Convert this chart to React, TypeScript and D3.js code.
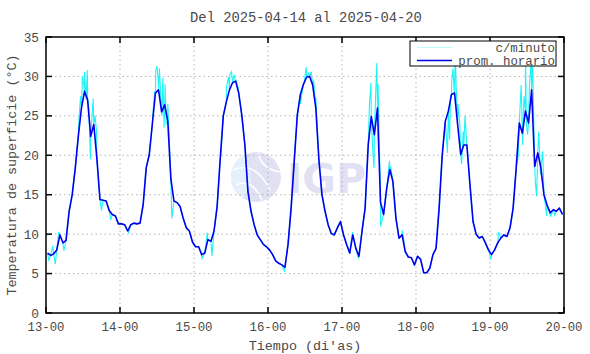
import React from "react";
import { scaleLinear, line, range } from "d3";

// hourly averages (prom. horario), one value per hour, 13-00 .. 19-23
const day13 = [7.6, 7.3, 7.5, 8.0, 9.9, 8.9, 9.2, 12.9, 15.0, 18.4, 22.5, 26.0, 28.1, 27.0, 22.4, 23.9, 19.6, 14.4, 14.3, 14.2, 13.0, 12.5, 12.3, 11.3];
const day14 = [11.3, 11.2, 10.4, 11.2, 11.4, 11.3, 11.4, 13.7, 18.4, 20.1, 24.0, 27.9, 28.3, 25.5, 26.4, 24.3, 17.0, 14.2, 14.0, 13.5, 12.0, 10.8, 10.4, 9.0];
const day15 = [8.4, 8.4, 7.4, 7.6, 9.3, 9.1, 10.4, 13.5, 19.5, 25.0, 26.8, 28.3, 29.2, 29.4, 27.9, 25.1, 21.3, 15.4, 12.9, 11.2, 9.9, 9.3, 8.7, 8.4];
const day16 = [8.0, 7.4, 6.6, 6.3, 6.1, 5.8, 8.7, 13.3, 19.2, 25.1, 27.7, 29.0, 29.9, 30.0, 28.9, 26.0, 19.5, 15.0, 12.9, 11.2, 10.1, 9.9, 10.8, 11.6];
const day17 = [9.9, 8.7, 7.6, 9.9, 8.2, 7.2, 10.4, 13.3, 21.3, 24.9, 22.6, 26.0, 14.0, 12.5, 15.8, 18.2, 16.7, 12.0, 9.5, 9.9, 7.8, 7.1, 7.0, 6.1];
const day18 = [7.2, 6.8, 5.1, 5.1, 5.7, 7.4, 8.2, 13.3, 20.0, 24.3, 25.6, 27.7, 27.9, 23.9, 20.1, 21.3, 21.3, 16.3, 11.6, 10.0, 9.5, 9.7, 8.9, 8.0];
const day19 = [7.4, 8.0, 8.9, 9.5, 9.9, 9.7, 10.8, 13.3, 18.4, 24.1, 22.8, 25.6, 24.1, 28.3, 18.6, 20.3, 18.4, 15.0, 13.7, 12.7, 13.1, 12.9, 13.3, 12.5];

// per-minute excursions away from the hourly curve: [hours since 13-00, value]
const minuteSpikes: [number, number][] = [
  [0.9, 6.7], [2.2, 8.5], [3.0, 6.2], [4.1, 10.3], [5.8, 7.9],
  [10.6, 24.0], [11.2, 27.5], [11.8, 30.0], [12.2, 29.0], [12.5, 30.6], [13.0, 27.0], [13.4, 30.8], [13.9, 26.0],
  [14.4, 19.5], [15.3, 27.2], [15.9, 25.0], [16.4, 23.0], [18.0, 13.0], [21.0, 11.8], [26.8, 10.2],
  [34.6, 25.0], [35.2, 28.0], [35.6, 30.8], [36.0, 31.3], [36.4, 29.5], [36.8, 31.0], [37.2, 27.5], [37.6, 25.0],
  [37.9, 29.8], [38.3, 23.5], [38.6, 29.0], [39.0, 24.0], [39.5, 26.5], [40.8, 12.0],
  [50.6, 6.9], [52.3, 10.2], [53.8, 7.2], [56.8, 20.5], [57.4, 24.5], [58.5, 28.6],
  [59.2, 29.9], [59.6, 30.2], [60.2, 30.6], [61.0, 30.2], [61.6, 29.6], [62.3, 28.6], [77.3, 5.3],
  [82.5, 26.5], [83.0, 27.8], [83.8, 29.4], [84.4, 31.2], [85.2, 30.4], [86.0, 30.6], [86.8, 29.5], [87.5, 27.3],
  [99.4, 10.3], [101.3, 6.9], [104.9, 26.5], [105.4, 29.2], [106.0, 20.5], [106.4, 18.4],
  [106.9, 27.5], [107.3, 31.7], [107.7, 29.0], [108.5, 11.0], [111.4, 19.3], [111.8, 18.6], [115.6, 10.5],
  [130.2, 20.3], [130.9, 22.0], [131.2, 27.5], [131.6, 29.5], [132.0, 31.0], [132.4, 28.0], [132.7, 33.4],
  [133.0, 29.0], [133.6, 26.5], [134.2, 24.0], [134.8, 18.9], [135.3, 23.0], [135.9, 25.0],
  [144.3, 6.8], [146.8, 10.3], [153.2, 20.0], [153.8, 26.5], [154.1, 28.9], [154.6, 21.3], [155.0, 27.5],
  [155.5, 33.0], [155.8, 24.0], [156.2, 22.6], [156.8, 29.0], [157.3, 31.7], [157.8, 32.3], [158.2, 24.0],
  [158.7, 16.7], [159.1, 14.8], [159.8, 23.0], [160.4, 17.5], [161.1, 20.5], [162.4, 12.3], [163.6, 12.2], [165.0, 12.4],
];

const dayLabels = ["13-00", "14-00", "15-00", "16-00", "17-00", "18-00", "19-00", "20-00"];
const yTicks = [0, 5, 10, 15, 20, 25, 30, 35];

const W = 590;
const H = 354;
const left = 46;
const right = 564;
const top = 37;
const bottom = 313;
const mono = "'Liberation Mono', 'DejaVu Sans Mono', monospace";
const textCol = "#4a4a4a";

export default function App() {
  const hourly = [...day13, ...day14, ...day15, ...day16, ...day17, ...day18, ...day19];
  const hourlyPts: [number, number][] = hourly.map((v, i) => [i + 0.5, v]);
  const minutePts = [...hourlyPts, ...minuteSpikes].sort((a, b) => a[0] - b[0]);

  const x = scaleLinear().domain([0, 168]).range([left, right]);
  const y = scaleLinear().domain([0, 35]).range([bottom, top]);
  const path = line<[number, number]>()
    .x((d) => x(d[0]))
    .y((d) => y(d[1]));

  const dayTicks = range(0, 8).map((d) => d * 24);

  return (
    <svg
      width={W}
      height={H}
      style={{ position: "absolute", left: 0, top: 0, background: "#fff" }}
    >
      <rect x={0} y={0} width={W} height={H} fill="#fff" />

      {/* watermark */}
      <g>
        <circle cx={256} cy={177} r={25} fill="#e1e1f3" />
        <path d="M 244 155 A 25 25 0 0 0 244 199 A 40 40 0 0 0 244 155 Z" fill="#e4f0fb" />
        <path d="M 233 170 Q 255 160 270 190" stroke="#fff" strokeWidth={1.5} fill="none" />
        <path d="M 236 185 Q 252 178 262 200" stroke="#fff" strokeWidth={1.5} fill="none" />
        <path d="M 258 153 Q 262 170 281 172" stroke="#fff" strokeWidth={1.5} fill="none" />
        <text x={287} y={193} fontFamily="'DejaVu Sans', sans-serif" fontWeight="bold" fontSize={41} fill="#e1e1f3">
          IGP
        </text>
      </g>

      {/* grid */}
      {dayTicks.slice(1, -1).map((t) => (
        <line key={"gx" + t} x1={x(t)} x2={x(t)} y1={top} y2={bottom} stroke="#b4b4b4" strokeDasharray="1.5,3" />
      ))}
      {yTicks.slice(1, -1).map((v) => (
        <line key={"gy" + v} x1={left} x2={right} y1={y(v)} y2={y(v)} stroke="#b4b4b4" strokeDasharray="1.5,3" />
      ))}

      {/* data */}
      <path d={path(minutePts) ?? ""} fill="none" stroke="#1ef4f8" strokeWidth={1.1} />
      <path d={path(hourlyPts) ?? ""} fill="none" stroke="#0000f0" strokeWidth={1.6} strokeLinejoin="round" />

      {/* ticks */}
      {dayTicks.map((t) => (
        <g key={"tx" + t}>
          <line x1={x(t)} x2={x(t)} y1={bottom} y2={bottom - 6} stroke="#000" strokeWidth={1.5} />
          <line x1={x(t)} x2={x(t)} y1={top} y2={top + 6} stroke="#000" strokeWidth={1.5} />
        </g>
      ))}
      {yTicks.map((v) => (
        <g key={"ty" + v}>
          <line x1={left} x2={left + 6} y1={y(v)} y2={y(v)} stroke="#000" strokeWidth={1.5} />
          <line x1={right} x2={right - 6} y1={y(v)} y2={y(v)} stroke="#000" strokeWidth={1.5} />
        </g>
      ))}

      {/* frame */}
      <rect x={left} y={top} width={right - left} height={bottom - top} fill="none" stroke="#000" strokeWidth={1.5} />

      {/* tick labels */}
      {dayTicks.map((t, i) => (
        <text key={"lx" + t} x={x(t)} y={331} textAnchor="middle" fontFamily={mono} fontSize={12.3} fill={textCol}>
          {dayLabels[i]}
        </text>
      ))}
      {yTicks.map((v) => (
        <text key={"ly" + v} x={39} y={y(v) + 4.5} textAnchor="end" fontFamily={mono} fontSize={12.8} fill={textCol}>
          {v}
        </text>
      ))}

      {/* legend */}
      <rect x={410} y={41} width={146} height={25} fill="#fff" stroke="#000" strokeWidth={1} />
      <line x1={417} x2={452} y1={47.5} y2={47.5} stroke="#b8ffff" strokeWidth={1.2} />
      <line x1={417} x2={452} y1={60.5} y2={60.5} stroke="#0000f0" strokeWidth={1.6} />
      <text x={555} y={52} textAnchor="end" fontFamily={mono} fontSize={12.4} fill={textCol}>
        c/minuto
      </text>
      <text x={555} y={64.5} textAnchor="end" fontFamily={mono} fontSize={12.4} fill={textCol}>
        prom. horario
      </text>

      {/* titles */}
      <text x={306} y={22} textAnchor="middle" fontFamily={mono} fontSize={13.8} fill={textCol}>
        Del 2025-04-14 al 2025-04-20
      </text>
      <text x={305} y={350} textAnchor="middle" fontFamily={mono} fontSize={13.4} fill={textCol}>
        Tiempo (di'as)
      </text>
      <text
        transform={`translate(16,${(top + bottom) / 2}) rotate(-90)`}
        textAnchor="middle"
        fontFamily={mono}
        fontSize={13.4}
        fill={textCol}
      >
        Temperatura de superficie (°C)
      </text>
    </svg>
  );
}
